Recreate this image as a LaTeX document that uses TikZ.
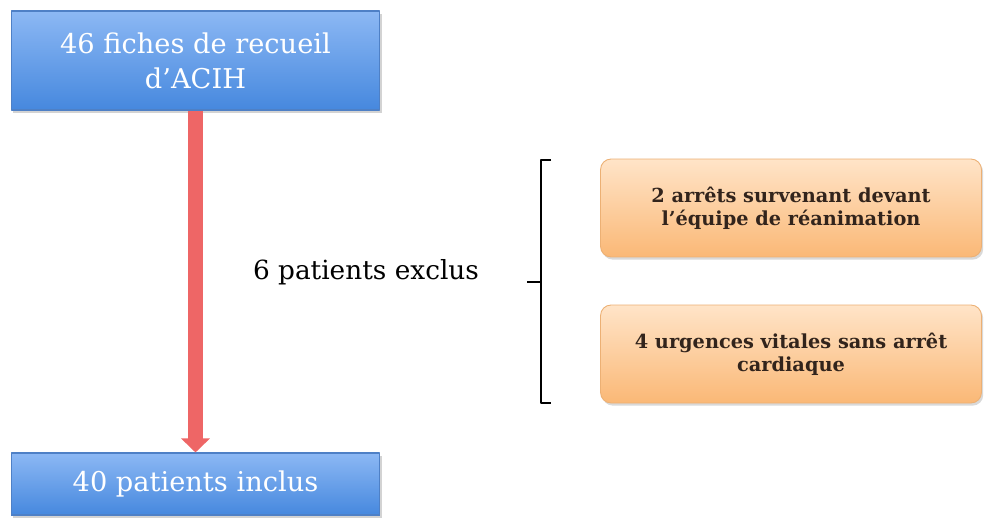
\documentclass[tikz,border=0pt]{standalone}
\usepackage{fontspec}
\setmainfont{DejaVu Serif}
\usetikzlibrary{shadows,arrows.meta}
\definecolor{bluetop}{RGB}{140,184,244}
\definecolor{bluebot}{RGB}{70,136,222}
\definecolor{blueedge}{RGB}{78,128,198}
\definecolor{orangetop}{RGB}{255,228,200}
\definecolor{orangebot}{RGB}{250,184,118}
\definecolor{orangeedge}{RGB}{236,176,116}
\definecolor{arrowred}{RGB}{238,102,102}
\definecolor{brunfonce}{RGB}{50,36,28}

\begin{document}
\begin{tikzpicture}[x=0.02cm,y=-0.02cm, line join=round,
	bluebox/.style={rectangle,draw=blueedge,line width=0.6pt,top color=bluetop,bottom color=bluebot,
		text=white,font=\fontsize{15.5}{20}\selectfont,align=center,minimum width=7.38cm,
		drop shadow={shadow xshift=1pt,shadow yshift=-1.5pt,opacity=0.35}},
	orangebox/.style={rectangle,rounded corners=6pt,draw=orangeedge,line width=0.5pt,top color=orangetop,bottom color=orangebot,
		text=brunfonce,font=\bfseries\fontsize{11}{13}\selectfont,align=center,minimum width=7.62cm,minimum height=1.96cm,
		drop shadow={shadow xshift=1pt,shadow yshift=-1.5pt,opacity=0.3}}]
	\useasboundingbox (0,0) rectangle (984,525);
	% flow on the left
	\node[bluebox,minimum height=1.98cm] (fiches) at (195.5,60.5) {46 fiches de recueil\\d'ACIH};
	\node[bluebox,minimum height=1.24cm] (inclus) at (195.5,484) {40 patients inclus};
	\draw[arrowred,line width=8pt,-{Triangle[width=16pt,length=8pt]}] (fiches) -- (inclus);
	\node[font=\fontsize{15}{18}\selectfont] (exclus) at (366,272) {6 patients exclus};
	% excluded patients
	\node[orangebox] (arrets) at (791,208) {2 arrêts survenant devant\\l'équipe de réanimation};
	\node[orangebox] (urgences) at (791,354) {4 urgences vitales sans arrêt\\cardiaque};
	\draw[line width=0.9pt] (551,160) -- (541,160) -- (541,403) -- (551,403);
	\draw[line width=0.9pt] (541,282) -- (527,282);
\end{tikzpicture}
\end{document}
